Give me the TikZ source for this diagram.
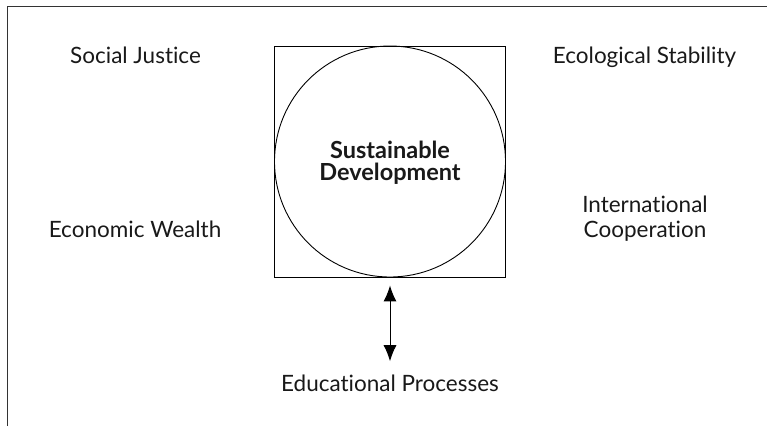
\documentclass[tikz,border=0pt]{standalone}
\usepackage{fontspec}
\setmainfont{Lato}[Ligatures=NoCommon]
\usetikzlibrary{arrows.meta}

\tikzset{
  lbl/.style={inner sep=0pt, text=black!90, font=\fontsize{22.5}{25}\selectfont},
  thinline/.style={line width=0.9pt},
  dblarrow/.style={line width=1pt, {Latex[length=16pt,width=13pt]}-{Latex[length=16pt,width=13pt]}}
}

\begin{document}
\begin{tikzpicture}[x=1pt,y=-1pt]
			%%%%% START %%%%%
			\useasboundingbox (0,0) rectangle (767,426);
			
			\draw[line width=1pt, color=black!80] (7,426) -- (7,6) -- (767,6);
			
			\node[draw, thinline, minimum size=231pt, inner sep=0pt] (sq) at (390,161.5) {};
			\node[draw, thinline, circle, minimum size=231pt, inner sep=0pt] (circ) at (390,161.5) {};
			\node[lbl, align=center, font=\bfseries\fontsize{23.5}{22}\selectfont] (sd) at (390,162.5) {Sustainable\\Development};
			
			\node[lbl, anchor=base] (sj) at (135.5,63) {Social Justice};
			\node[lbl, anchor=base] (es) at (644.5,63) {Ecological Stability};
			\node[lbl, anchor=base] (ew) at (135,237) {Economic Wealth};
			\node[lbl, align=center] (ic) at (645,218.5) {International\\Cooperation};
			
			\node[lbl, anchor=base] (edu) at (390,391) {Educational Processes};
			\draw[dblarrow, shorten <=8pt, shorten >=13pt] (sq.south) -- (edu.north);
			%%%%% END %%%%%
		\end{tikzpicture}
\end{document}
